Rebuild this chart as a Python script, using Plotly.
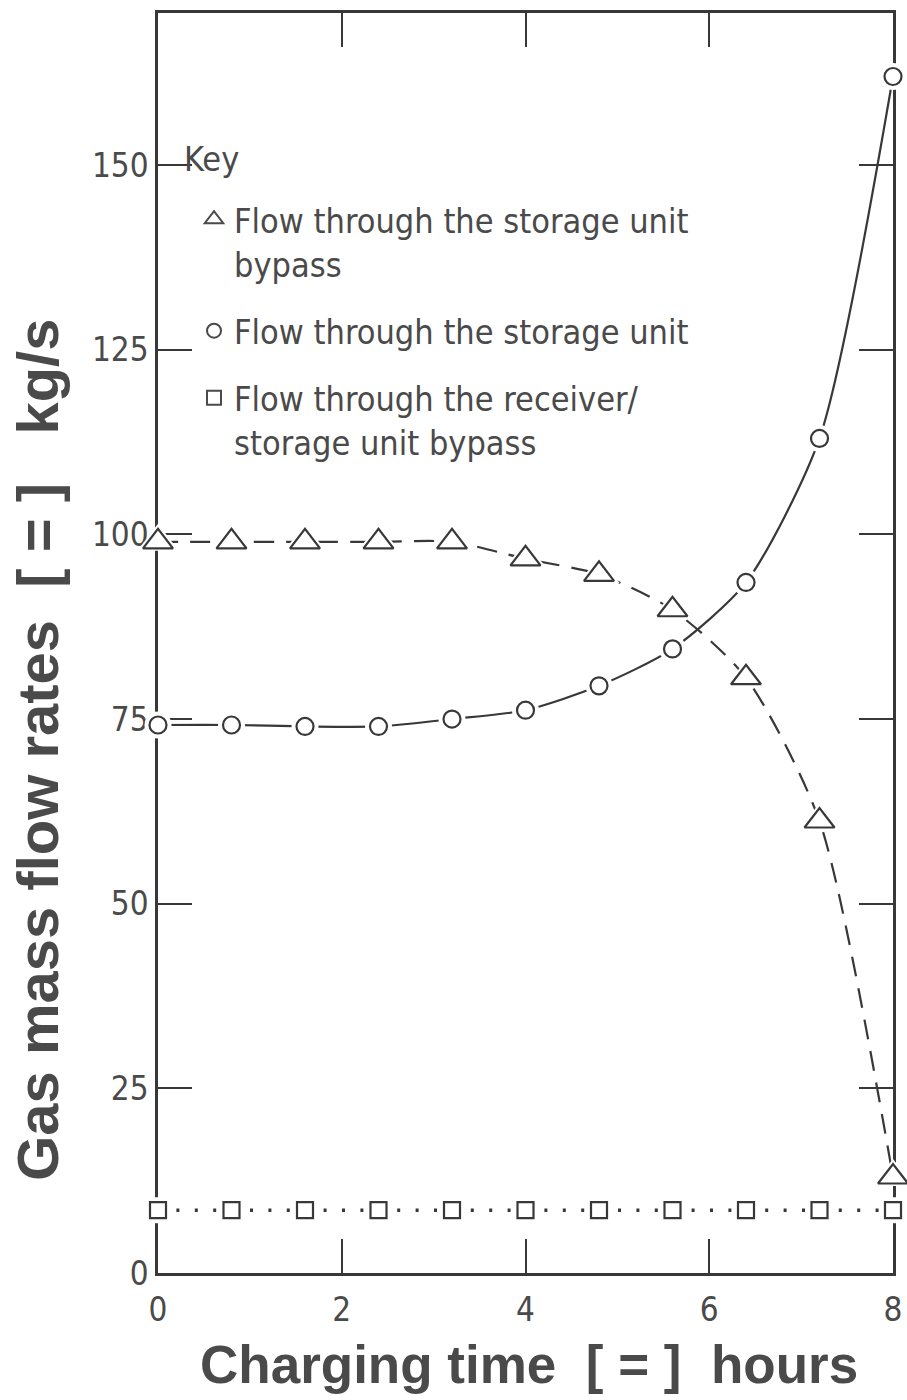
import plotly.graph_objects as go

time_h = [0, 0.8, 1.6, 2.4, 3.2, 4.0, 4.8, 5.6, 6.4, 7.2, 8.0]
bypass = [99, 99, 99, 99, 99, 96.7, 94.6, 89.8, 80.6, 61.2, 13]
storage = [74.2, 74.2, 74.0, 74.0, 75.0, 76.2, 79.5, 84.5, 93.5, 113, 162]
receiver_bypass = [8.5, 8.5, 8.5, 8.5, 8.5, 8.5, 8.5, 8.5, 8.5, 8.5, 8.5]

x_ticks = [0, 2, 4, 6, 8]
y_ticks = [0, 25, 50, 75, 100, 125, 150]

names = ["Flow through the storage unit<br>bypass",
         "Flow through the storage unit",
         "Flow through the receiver/<br>storage unit bypass"]

INK = "#383838"
TXT = "#4a4a4a"
COND = "Liberation Sans Narrow, DejaVu Sans Condensed, DejaVu Sans"
BOLD = "Liberation Sans, Arial, DejaVu Sans"

fig = go.Figure()

series = [
    (bypass, "triangle-up", 26, 21, dict(color=INK, width=2.2, dash="20px,12px", shape="spline", smoothing=0.7)),
    (storage, "circle", 17, 14, dict(color=INK, width=2.2, shape="spline", smoothing=0.7)),
    (receiver_bypass, "square", 16, 14, dict(color=INK, width=3.5, dash="3px,15.4px")),
]

for i, ((ys, sym, sz, lsz, ln), nm) in enumerate(zip(series, names)):
    fig.add_trace(go.Scatter(x=time_h, y=ys, mode="lines", line=ln,
                             showlegend=False, hoverinfo="skip", cliponaxis=False))
    fig.add_trace(go.Scatter(x=time_h, y=ys, mode="markers",
                             marker=dict(symbol=sym, size=sz + 10, color="white",
                                         line=dict(width=0)),
                             showlegend=False, hoverinfo="skip", cliponaxis=False))
    fig.add_trace(go.Scatter(x=time_h, y=ys, mode="markers",
                             marker=dict(symbol=sym, size=sz, color="white",
                                         line=dict(color=INK, width=2.2)),
                             showlegend=False, cliponaxis=False))
    fig.add_trace(go.Scatter(x=[None], y=[None], mode="markers", name=nm,
                             legendgroup=f"g{i}",
                             marker=dict(symbol=sym, size=lsz, color="white",
                                         line=dict(color=TXT, width=2))))

axis_common = dict(
    showline=True, linecolor=INK, linewidth=2.5, mirror="ticks",
    ticks="inside", ticklen=34, tickwidth=1.5, tickcolor=INK,
    showgrid=False, zeroline=False, layer="below traces", automargin=False,
    tickfont=dict(family=COND, size=33, color=TXT),
)

fig.update_xaxes(range=[0, 8], tickvals=x_ticks, ticktext=[str(v) for v in x_ticks],
                 ticklabelstandoff=6, **axis_common)
fig.update_yaxes(range=[0, 170.6], tickvals=y_ticks, ticktext=[str(v) for v in y_ticks],
                 **axis_common)

# axis titles
fig.add_annotation(text="Charging time  [ = ]  hours", xref="paper", yref="paper",
                   x=0.505, y=-0.073, xanchor="center", yanchor="middle", showarrow=False,
                   font=dict(family=BOLD, size=53, color=TXT, weight="bold"))
fig.add_annotation(text="Gas mass flow rates  [ = ]   kg/s", xref="paper", yref="paper",
                   x=-0.165, y=0.415, xanchor="center", yanchor="middle", showarrow=False,
                   textangle=-90,
                   font=dict(family=BOLD, size=58, color=TXT, weight="bold"))
# key heading
fig.add_annotation(text="Key", xref="paper", yref="paper",
                   x=0.032, y=0.884, xanchor="left", yanchor="middle", showarrow=False,
                   font=dict(family=COND, size=34, color=TXT))

fig.update_layout(
    width=907, height=1400,
    margin=dict(l=158, r=14, t=13, b=127),
    plot_bgcolor="white", paper_bgcolor="white",
    showlegend=True,
    legend=dict(x=0.049, y=0.859, xanchor="left", yanchor="top",
                bgcolor="rgba(0,0,0,0)",
                font=dict(family=COND, size=34, color=TXT),
                valign="top", tracegroupgap=20, itemwidth=30),
)

fig.write_html("out.html")
